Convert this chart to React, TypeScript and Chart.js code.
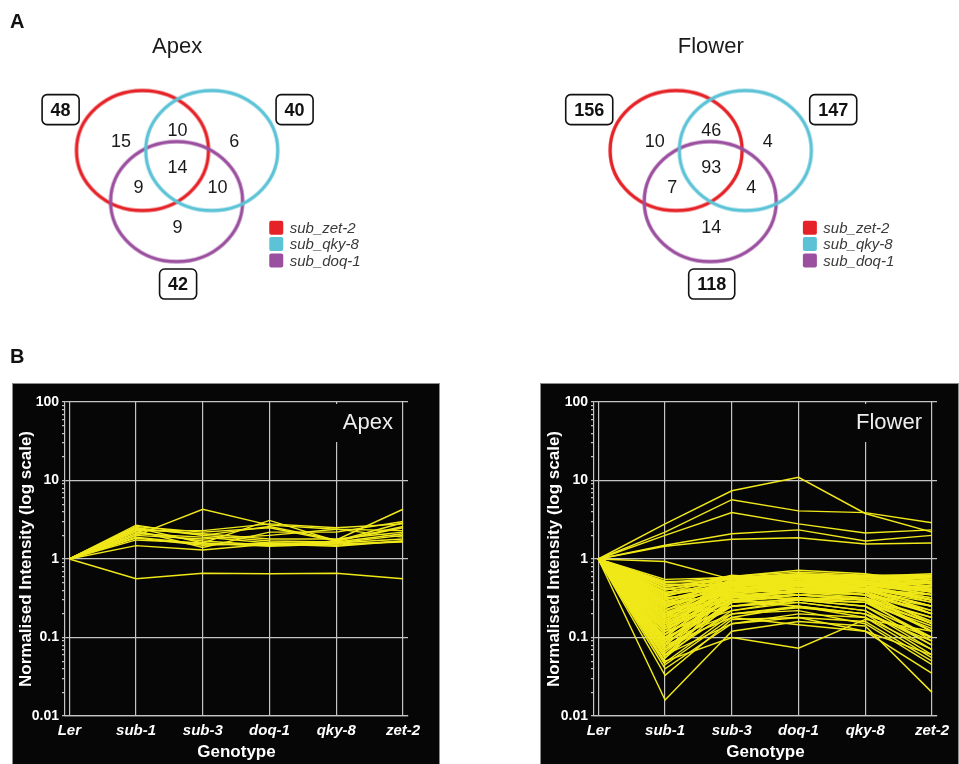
import React, { useEffect, useRef } from 'react';
import { Chart, registerables } from 'chart.js';

Chart.register(...registerables);

const FONT = '"Liberation Sans", Arial, Helvetica, sans-serif';

// ---------- Panel A: Venn data ----------
const vennSetNames = ['sub_zet-2', 'sub_qky-8', 'sub_doq-1'];
const vennColors = ['#e52227', '#5cc3d6', '#9b4f9f'];
// region order: zet only, zet∩qky, qky only, all three, zet∩doq, qky∩doq, doq only
const apexRegionCounts = [15, 10, 6, 14, 9, 10, 9];
const apexSetTotals = [48, 40, 42];
const flowerRegionCounts = [10, 46, 4, 93, 7, 4, 14];
const flowerSetTotals = [156, 147, 118];

// ---------- Panel B: expression profiles ----------
const genotypes = ['Ler', 'sub-1', 'sub-3', 'doq-1', 'qky-8', 'zet-2'];
const yMajorTicks = [0.01, 0.1, 1, 10, 100];
const lerReference = 1;
// values for sub-1, sub-3, doq-1, qky-8, zet-2 (Ler = 1)
const apexProfiles: number[][] = [
  [0.56, 0.66, 0.65, 0.66, 0.56],
  [2.0, 4.3, 2.7, 2.4, 2.3],
  [1.48, 1.3, 1.55, 1.45, 1.7],
  [2.5, 1.6, 3.1, 1.7, 2.9],
  [2.7, 2.0, 2.6, 1.75, 4.3],
  [2.3, 2.3, 2.8, 2.5, 2.8],
  [2.2, 1.7, 1.5, 1.6, 2.0],
  [1.9, 1.55, 1.5, 1.7, 2.5],
  [2.4, 2.1, 1.8, 1.8, 2.2],
  [2.0, 1.8, 2.0, 2.4, 1.9],
  [1.85, 1.5, 1.6, 1.5, 1.7],
  [2.6, 2.2, 2.5, 1.7, 2.6],
  [2.1, 1.9, 1.6, 1.6, 1.8],
  [1.75, 1.6, 1.45, 1.55, 1.65],
  [2.3, 1.4, 2.2, 2.2, 3.0],
  [2.5, 2.0, 1.7, 1.65, 2.1],
];
const flowerProfiles: number[][] = [
  [2.8, 7.4, 11, 3.8, 2.2],
  [2.2, 5.7, 4.1, 3.9, 2.9],
  [2.0, 3.9, 2.8, 2.15, 2.35],
  [1.5, 2.1, 2.35, 1.7, 2.0],
  [1.45, 1.78, 1.87, 1.55, 1.6],
  [0.93, 0.55, 0.6, 0.58, 0.5],
  [0.55, 0.58, 0.62, 0.6, 0.55],
  [0.52, 0.5, 0.55, 0.58, 0.62],
  [0.5, 0.6, 0.72, 0.65, 0.5],
  [0.48, 0.45, 0.5, 0.55, 0.45],
  [0.45, 0.55, 0.6, 0.62, 0.6],
  [0.42, 0.5, 0.45, 0.5, 0.38],
  [0.4, 0.62, 0.55, 0.58, 0.52],
  [0.38, 0.4, 0.48, 0.45, 0.3],
  [0.36, 0.52, 0.58, 0.5, 0.42],
  [0.35, 0.45, 0.4, 0.42, 0.25],
  [0.33, 0.58, 0.65, 0.6, 0.58],
  [0.32, 0.38, 0.42, 0.48, 0.35],
  [0.3, 0.5, 0.52, 0.45, 0.2],
  [0.29, 0.42, 0.6, 0.55, 0.48],
  [0.28, 0.35, 0.38, 0.4, 0.28],
  [0.27, 0.55, 0.5, 0.62, 0.55],
  [0.26, 0.48, 0.45, 0.38, 0.15],
  [0.25, 0.4, 0.55, 0.5, 0.4],
  [0.24, 0.6, 0.48, 0.45, 0.32],
  [0.23, 0.32, 0.35, 0.3, 0.12],
  [0.22, 0.45, 0.62, 0.58, 0.6],
  [0.21, 0.38, 0.42, 0.35, 0.22],
  [0.2, 0.5, 0.58, 0.52, 0.45],
  [0.2, 0.3, 0.32, 0.28, 0.1],
  [0.19, 0.42, 0.48, 0.42, 0.3],
  [0.18, 0.55, 0.65, 0.6, 0.5],
  [0.18, 0.35, 0.3, 0.25, 0.08],
  [0.17, 0.45, 0.52, 0.48, 0.38],
  [0.16, 0.28, 0.35, 0.32, 0.18],
  [0.16, 0.52, 0.45, 0.55, 0.52],
  [0.15, 0.4, 0.5, 0.4, 0.25],
  [0.15, 0.25, 0.28, 0.22, 0.07],
  [0.14, 0.48, 0.55, 0.5, 0.42],
  [0.14, 0.33, 0.4, 0.38, 0.2],
  [0.13, 0.58, 0.6, 0.5, 0.35],
  [0.13, 0.3, 0.25, 0.2, 0.1],
  [0.12, 0.42, 0.45, 0.45, 0.3],
  [0.12, 0.22, 0.3, 0.28, 0.14],
  [0.11, 0.5, 0.48, 0.42, 0.55],
  [0.11, 0.36, 0.42, 0.35, 0.16],
  [0.1, 0.25, 0.32, 0.3, 0.09],
  [0.1, 0.45, 0.55, 0.52, 0.4],
  [0.095, 0.32, 0.38, 0.32, 0.12],
  [0.09, 0.2, 0.24, 0.2, 0.06],
  [0.09, 0.4, 0.5, 0.45, 0.28],
  [0.085, 0.28, 0.35, 0.4, 0.22],
  [0.08, 0.18, 0.25, 0.18, 0.055],
  [0.08, 0.35, 0.45, 0.38, 0.2],
  [0.075, 0.25, 0.3, 0.25, 0.1],
  [0.07, 0.2, 0.22, 0.15, 0.045],
  [0.07, 0.38, 0.42, 0.35, 0.25],
  [0.065, 0.3, 0.35, 0.3, 0.15],
  [0.06, 0.22, 0.28, 0.22, 0.08],
  [0.06, 0.15, 0.18, 0.12, 0.06],
  [0.055, 0.28, 0.3, 0.28, 0.13],
  [0.05, 0.1, 0.073, 0.17, 0.12],
  [0.048, 0.2, 0.25, 0.2, 0.09],
  [0.045, 0.18, 0.145, 0.12, 0.035],
  [0.04, 0.15, 0.2, 0.18, 0.07],
  [0.033, 0.17, 0.18, 0.16, 0.05],
  [0.016, 0.12, 0.16, 0.14, 0.02],
  [0.5, 0.55, 0.58, 0.52, 0.58],
  [0.47, 0.48, 0.62, 0.6, 0.65],
  [0.44, 0.58, 0.5, 0.45, 0.5],
  [0.41, 0.42, 0.45, 0.5, 0.55],
  [0.37, 0.6, 0.68, 0.62, 0.62],
  [0.34, 0.5, 0.42, 0.4, 0.45],
  [0.31, 0.45, 0.5, 0.58, 0.5],
  [0.28, 0.52, 0.6, 0.52, 0.42],
  [0.26, 0.38, 0.45, 0.42, 0.35],
  [0.24, 0.5, 0.5, 0.45, 0.3],
  [0.22, 0.55, 0.55, 0.55, 0.58],
  [0.2, 0.4, 0.38, 0.35, 0.2],
  [0.18, 0.48, 0.52, 0.6, 0.48],
  [0.17, 0.32, 0.4, 0.45, 0.32],
  [0.15, 0.5, 0.6, 0.55, 0.45],
  [0.14, 0.42, 0.35, 0.3, 0.18],
  [0.13, 0.38, 0.5, 0.48, 0.38],
  [0.12, 0.55, 0.45, 0.4, 0.25],
  [0.11, 0.3, 0.4, 0.42, 0.3],
  [0.1, 0.48, 0.52, 0.5, 0.5],
  [0.09, 0.35, 0.3, 0.32, 0.15],
  [0.08, 0.42, 0.48, 0.4, 0.35],
  [0.07, 0.28, 0.42, 0.38, 0.2],
  [0.06, 0.32, 0.38, 0.35, 0.12],
  [0.055, 0.4, 0.45, 0.45, 0.4],
];

// ---------- layout / style constants ----------
const VENN_W = 480;
const VENN_H = 330;
const CIRCLE_OFFSETS = [[-35, 150], [36, 150], [0, 203]];
const REGION_OFFSETS = [[-57, 140], [1, 129], [59, 140], [1, 167], [-39, 188], [42, 188], [1, 229]];
const ELLIPSE_RX = 66;
const ELLIPSE_RY = 60;
const LINE_COLOR = 'rgb(240,232,24)';
const GRID_COLOR = '#c4c4c4';
const PANEL_BG = '#060606';

function ellipseImage(color: string) {
  const c = document.createElement('canvas');
  c.width = ELLIPSE_RX * 2 + 8;
  c.height = ELLIPSE_RY * 2 + 8;
  const ctx = c.getContext('2d')!;
  ctx.strokeStyle = color;
  ctx.lineWidth = 3.4;
  ctx.beginPath();
  ctx.ellipse(c.width / 2, c.height / 2, ELLIPSE_RX, ELLIPSE_RY, 0, 0, Math.PI * 2);
  ctx.stroke();
  return c;
}

function roundRectPath(ctx: CanvasRenderingContext2D, x: number, y: number, w: number, h: number, r: number) {
  ctx.beginPath();
  ctx.moveTo(x + r, y);
  ctx.arcTo(x + w, y, x + w, y + h, r);
  ctx.arcTo(x + w, y + h, x, y + h, r);
  ctx.arcTo(x, y + h, x, y, r);
  ctx.arcTo(x, y, x + w, y, r);
  ctx.closePath();
}

function vennPlugin(cx: number, regions: number[], totals: number[], title: string) {
  return {
    id: 'vennText',
    afterDatasetsDraw(chart: any) {
      const ctx: CanvasRenderingContext2D = chart.ctx;
      const xs = chart.scales.x;
      const ys = chart.scales.y;
      const px = (dx: number) => xs.getPixelForValue(cx + dx);
      const py = (y: number) => ys.getPixelForValue(y);
      ctx.save();
      ctx.textAlign = 'center';
      ctx.textBaseline = 'middle';
      ctx.fillStyle = '#1a1a1a';
      ctx.font = `22px ${FONT}`;
      ctx.fillText(title, px(0.5), py(42));
      ctx.font = `18px ${FONT}`;
      regions.forEach((n, i) => {
        ctx.fillText(String(n), px(REGION_OFFSETS[i][0]), py(REGION_OFFSETS[i][1]) + 1);
      });
      ctx.font = `bold 18px ${FONT}`;
      totals.forEach((n, i) => {
        const s = String(n);
        const w = ctx.measureText(s).width + 17;
        const h = 30;
        let left: number;
        if (i === 0) left = px(-100) - w;
        else if (i === 1) left = px(102);
        else left = px(1.5) - w / 2;
        const top = i === 2 ? py(273) : py(92);
        roundRectPath(ctx, left, top, w, h, 5);
        ctx.lineWidth = 1.6;
        ctx.strokeStyle = '#111';
        ctx.stroke();
        ctx.fillStyle = '#111';
        ctx.fillText(s, left + w / 2, top + h / 2 + 1);
      });
      ctx.font = `italic 15px ${FONT}`;
      ctx.textAlign = 'left';
      vennSetNames.forEach((name, i) => {
        const yc = py(230 + i * 17);
        roundRectPath(ctx, px(95), yc - 7, 14, 14, 2);
        ctx.fillStyle = vennColors[i];
        ctx.fill();
        ctx.fillStyle = '#3a3a3a';
        ctx.fillText(name, px(116), yc + 1);
      });
      ctx.restore();
    },
  };
}

function vennConfig(cx: number, regions: number[], totals: number[], title: string): any {
  const drawOrder = [1, 2, 0];
  return {
    type: 'scatter',
    data: {
      datasets: drawOrder.map((i) => ({
        label: vennSetNames[i],
        data: [{ x: cx + CIRCLE_OFFSETS[i][0], y: CIRCLE_OFFSETS[i][1] }],
        pointStyle: ellipseImage(vennColors[i]),
        pointRadius: 5,
        borderColor: vennColors[i],
        backgroundColor: 'transparent',
        clip: false,
      })),
    },
    options: {
      animation: false,
      responsive: false,
      events: [],
      layout: { padding: 0 },
      scales: {
        x: { type: 'linear', display: false, min: 0, max: VENN_W },
        y: { type: 'linear', display: false, min: 0, max: VENN_H, reverse: true },
      },
      plugins: { legend: { display: false }, tooltip: { enabled: false } },
    },
    plugins: [vennPlugin(cx, regions, totals, title)],
  };
}

const isMajor = (v: number) => Math.abs(Math.log10(v) - Math.round(Math.log10(v))) < 1e-6;

const bgPlugin = {
  id: 'panelBg',
  beforeDraw(chart: any) {
    const { ctx, width, height } = chart;
    ctx.save();
    ctx.fillStyle = PANEL_BG;
    ctx.fillRect(0, 0, width, height);
    ctx.strokeStyle = '#8c8c8c';
    ctx.lineWidth = 1;
    ctx.strokeRect(0.5, 0.5, width - 1, height + 4);
    ctx.restore();
  },
};

function tissueLabelPlugin(text: string) {
  return {
    id: 'tissueLabel',
    beforeDatasetsDraw(chart: any) {
      const ctx: CanvasRenderingContext2D = chart.ctx;
      const x4 = chart.scales.x.getPixelForValue(4);
      const x5 = chart.scales.x.getPixelForValue(5);
      const y100 = chart.scales.y.getPixelForValue(100);
      ctx.save();
      ctx.font = `22px ${FONT}`;
      const tw = ctx.measureText(text).width;
      const right = x5 - 10;
      const left = Math.min(right - tw - 4, x4 - 5);
      ctx.fillStyle = PANEL_BG;
      ctx.fillRect(left, y100 + 2, x5 - 3 - left, 38);
      ctx.fillStyle = '#eeeeee';
      ctx.textAlign = 'right';
      ctx.textBaseline = 'middle';
      ctx.fillText(text, right, y100 + 21);
      ctx.restore();
    },
  };
}

function profileConfig(profiles: number[][], label: string, yWidth: number, rightPad: number): any {
  return {
    type: 'line',
    data: {
      datasets: profiles.map((p) => ({
        data: [lerReference, ...p].map((y, i) => ({ x: i, y })),
        borderColor: LINE_COLOR,
        borderWidth: 1.45,
        pointRadius: 0,
        fill: false,
        tension: 0,
      })),
    },
    options: {
      animation: false,
      responsive: false,
      events: [],
      layout: { padding: { top: 19, right: rightPad, left: 0, bottom: 0 } },
      plugins: { legend: { display: false }, tooltip: { enabled: false } },
      scales: {
        x: {
          type: 'linear',
          min: -0.065,
          max: 5.075,
          afterBuildTicks: (s: any) => {
            s.ticks = genotypes.map((_, i) => ({ value: i }));
          },
          afterFit: (s: any) => {
            s.height = 48;
          },
          grid: { color: GRID_COLOR, lineWidth: 1.2, drawTicks: false },
          border: { color: GRID_COLOR, width: 1.2 },
          ticks: {
            callback: (v: number) => genotypes[v],
            color: '#ffffff',
            font: { family: FONT, size: 15, weight: 'bold', style: 'italic' },
            padding: 6,
            maxRotation: 0,
            autoSkip: false,
          },
          title: {
            display: true,
            text: 'Genotype',
            color: '#ffffff',
            font: { family: FONT, size: 17, weight: 'bold' },
            padding: { top: 0, bottom: 1 },
          },
        },
        y: {
          type: 'logarithmic',
          min: yMajorTicks[0],
          max: yMajorTicks[yMajorTicks.length - 1],
          afterBuildTicks: (s: any) => {
            const t: any[] = [];
            for (let k = 0; k < yMajorTicks.length; k++) {
              const base = yMajorTicks[k];
              if (k === yMajorTicks.length - 1) {
                t.push({ value: base, major: true });
              } else {
                for (let m = 1; m < 10; m++) t.push({ value: +(base * m).toPrecision(6), major: m === 1 });
              }
            }
            s.ticks = t;
          },
          afterFit: (s: any) => {
            s.width = yWidth;
          },
          grid: {
            color: (c: any) => (c.tick && isMajor(c.tick.value) ? GRID_COLOR : 'rgba(0,0,0,0)'),
            tickColor: GRID_COLOR,
            tickLength: 3,
            lineWidth: 1.2,
          },
          border: { color: GRID_COLOR, width: 1.2 },
          ticks: {
            callback: (v: number) => (isMajor(v) ? String(v) : ''),
            color: '#ffffff',
            font: { family: FONT, size: 14, weight: 'bold' },
            padding: 3,
            autoSkip: false,
          },
          title: {
            display: true,
            text: 'Normalised Intensity (log scale)',
            color: '#ffffff',
            font: { family: FONT, size: 17, weight: 'bold' },
            padding: { top: 4, bottom: 0 },
          },
        },
      },
    },
    plugins: [bgPlugin, tissueLabelPlugin(label)],
  };
}

export default function App() {
  const vennA = useRef<HTMLCanvasElement>(null);
  const vennB = useRef<HTMLCanvasElement>(null);
  const lineA = useRef<HTMLCanvasElement>(null);
  const lineB = useRef<HTMLCanvasElement>(null);

  useEffect(() => {
    document.body.style.margin = '0';
    const charts: Chart[] = [];
    charts.push(new Chart(vennA.current!, vennConfig(175, apexRegionCounts, apexSetTotals, 'Apex')));
    charts.push(new Chart(vennB.current!, vennConfig(230, flowerRegionCounts, flowerSetTotals, 'Flower')));
    charts.push(new Chart(lineA.current!, profileConfig(apexProfiles, 'Apex', 53, 32)));
    charts.push(new Chart(lineB.current!, profileConfig(flowerProfiles, 'Flower', 54, 22)));
    return () => charts.forEach((c) => c.destroy());
  }, []);

  const abs = (left: number, top: number, w: number, h: number): React.CSSProperties => ({
    position: 'absolute',
    left,
    top,
    width: w,
    height: h,
  });

  return (
    <div style={{ position: 'relative', width: 959, height: 764, background: '#fff', overflow: 'hidden', fontFamily: FONT }}>
      <canvas ref={vennA} width={VENN_W} height={VENN_H} style={abs(0, 0, VENN_W, VENN_H)} />
      <canvas ref={vennB} width={VENN_W} height={VENN_H} style={abs(480, 0, VENN_W, VENN_H)} />
      <canvas ref={lineA} width={428} height={381} style={abs(12, 383, 428, 381)} />
      <canvas ref={lineB} width={419} height={381} style={abs(540, 383, 419, 381)} />
      <div style={{ position: 'absolute', left: 10, top: 11, fontSize: 20, lineHeight: '20px', fontWeight: 'bold', color: '#111' }}>A</div>
      <div style={{ position: 'absolute', left: 10, top: 346, fontSize: 20, lineHeight: '20px', fontWeight: 'bold', color: '#111' }}>B</div>
    </div>
  );
}
